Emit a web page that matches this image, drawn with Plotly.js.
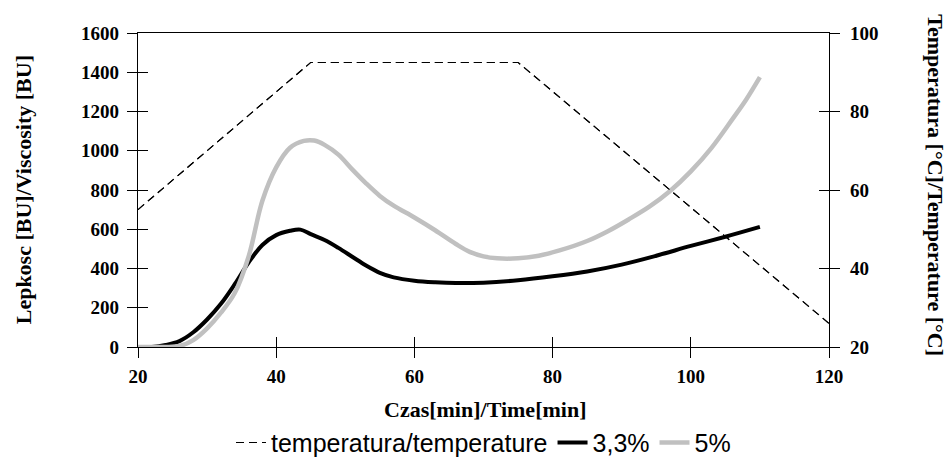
<!DOCTYPE html>
<html>
<head>
<meta charset="utf-8">
<script src="https://cdn.plot.ly/plotly-3.0.1.min.js"></script>
<style>html,body{margin:0;padding:0;background:#fff;}#chart{width:948px;height:457px;}</style>
</head>
<body>
<div id="chart"></div>
<script>
// Temperature profile
const tempTime = [20, 45, 75, 120];
const tempValues = [55, 92.5, 92.5, 26];

// Viscosity 3,3%
const time33 = [20, 22, 24, 26, 28, 30, 32, 34, 36, 38, 40, 42, 43.5, 45, 47, 49, 51, 53, 55, 57, 60, 63, 66, 70, 75, 80, 85, 90, 95, 100, 105, 110];
const visc33 = [0, 0, 10, 30, 75, 140, 220, 320, 430, 520, 570, 592, 598, 575, 545, 505, 460, 415, 378, 355, 338, 330, 326, 328, 340, 360, 385, 420, 465, 515, 562, 612];

// Viscosity 5%
const time5 = [20, 22, 24, 26, 28, 30, 32, 34, 36, 38, 40, 42, 44, 45.5, 47, 49, 51, 53, 55, 57, 60, 63, 66, 68, 70, 72, 75, 78, 81, 85, 88, 91, 94, 97, 100, 103, 106, 108, 110];
const visc5 = [0, 0, 0, 5, 35, 95, 175, 275, 460, 745, 915, 1015, 1050, 1052, 1030, 980, 905, 834, 770, 720, 660, 595, 525, 485, 462, 452, 452, 465, 492, 540, 590, 650, 715, 795, 895, 1015, 1160, 1260, 1375];

const legendNames = ['temperatura/temperature', '3,3%', '5%'];
const xTitle = 'Czas[min]/Time[min]';
const yTitle = 'Lepkosc [BU]/Viscosity [BU]';
const y2Title = 'Temperatura [°C]/Temperature [°C]';

const serifBold = {family: 'Liberation Serif, Times New Roman, serif', size: 19, color: '#000', weight: 700};
const titleFont = {family: 'Liberation Serif, Times New Roman, serif', size: 22, color: '#000', weight: 700};

const tempLine = {color: '#000', width: 1.1, dash: '8px,5px'};

const traces = [
  {x: tempTime, y: tempValues, yaxis: 'y2', name: legendNames[0], mode: 'lines', line: tempLine},
  {x: time33, y: visc33, name: legendNames[1], mode: 'lines',
   line: {color: '#000', width: 4, shape: 'spline', smoothing: 1}},
  {x: time5, y: visc5, xaxis: 'x3', yaxis: 'y3', name: legendNames[2], mode: 'lines',
   line: {color: '#c0c0c0', width: 4.5, shape: 'spline', smoothing: 1}},
  {x: tempTime, y: tempValues, xaxis: 'x3', yaxis: 'y4', showlegend: false, mode: 'lines', line: tempLine, hoverinfo: 'skip'}
];

// inner half of the crossing tick marks: a second subplot on the same frame with inside ticks
const innerTick = {tickmode: 'linear', ticks: 'inside', ticklen: 10, tickwidth: 1, tickcolor: '#000',
                   showticklabels: false, showline: false, showgrid: false, zeroline: false};

const layout = {
  width: 948, height: 457,
  margin: {l: 138, r: 119, t: 33, b: 110, autoexpand: false},
  paper_bgcolor: '#fff', plot_bgcolor: 'rgba(0,0,0,0)',
  showlegend: true,
  xaxis: {domain: [0, 1], range: [20, 120], tickmode: 'linear', dtick: 20, tick0: 20, ticks: 'outside', ticklen: 10, tickwidth: 1, tickcolor: '#000',
          showline: true, linecolor: '#000', linewidth: 1.2, mirror: true, showgrid: false, zeroline: false,
          tickfont: serifBold, ticklabelstandoff: 2},
  yaxis: {domain: [0, 1], range: [0, 1600], tickmode: 'linear', dtick: 200, tick0: 0, ticks: 'outside', ticklen: 10, tickwidth: 1, tickcolor: '#000',
          showline: true, linecolor: '#000', linewidth: 1.2, mirror: true, showgrid: false, zeroline: false,
          tickfont: serifBold, ticklabelstandoff: 4},
  yaxis2: {range: [20, 100], tickmode: 'linear', dtick: 20, tick0: 20, overlaying: 'y', side: 'right', anchor: 'x', ticks: 'outside', ticklen: 10, tickwidth: 1, tickcolor: '#000',
          showline: true, linecolor: '#000', linewidth: 1.2, showgrid: false, zeroline: false,
          tickfont: serifBold, ticklabelstandoff: 6},
  xaxis3: Object.assign({domain: [0, 1], range: [20, 120], dtick: 20, tick0: 20, anchor: 'y3', side: 'bottom'}, innerTick),
  yaxis3: Object.assign({domain: [0, 1], range: [0, 1600], dtick: 200, tick0: 0, anchor: 'x3', side: 'left'}, innerTick),
  yaxis4: Object.assign({range: [20, 100], dtick: 20, tick0: 20, overlaying: 'y3', side: 'right', anchor: 'x3'}, innerTick),
  legend: {orientation: 'h', x: 0.5, xanchor: 'center', y: -0.305, yanchor: 'middle',
           font: {family: 'Liberation Sans, Arial, sans-serif', size: 25, color: '#000'},
           bgcolor: 'rgba(0,0,0,0)', traceorder: 'normal', itemwidth: 30},
  annotations: [
    {text: xTitle, xref: 'paper', yref: 'paper', x: 0.502, y: -0.2, showarrow: false, font: titleFont, xanchor: 'center', yanchor: 'middle'},
    {text: yTitle, xref: 'paper', yref: 'paper', x: -0.166, y: 0.5, showarrow: false, font: titleFont, textangle: -90, xanchor: 'center', yanchor: 'middle'},
    {text: y2Title, xref: 'paper', yref: 'paper', x: 1.153, y: 0.516, showarrow: false, font: titleFont, textangle: 90, xanchor: 'center', yanchor: 'middle'}
  ]
};

Plotly.newPlot('chart', traces, layout, {displayModeBar: false, staticPlot: true});
</script>
</body>
</html>
